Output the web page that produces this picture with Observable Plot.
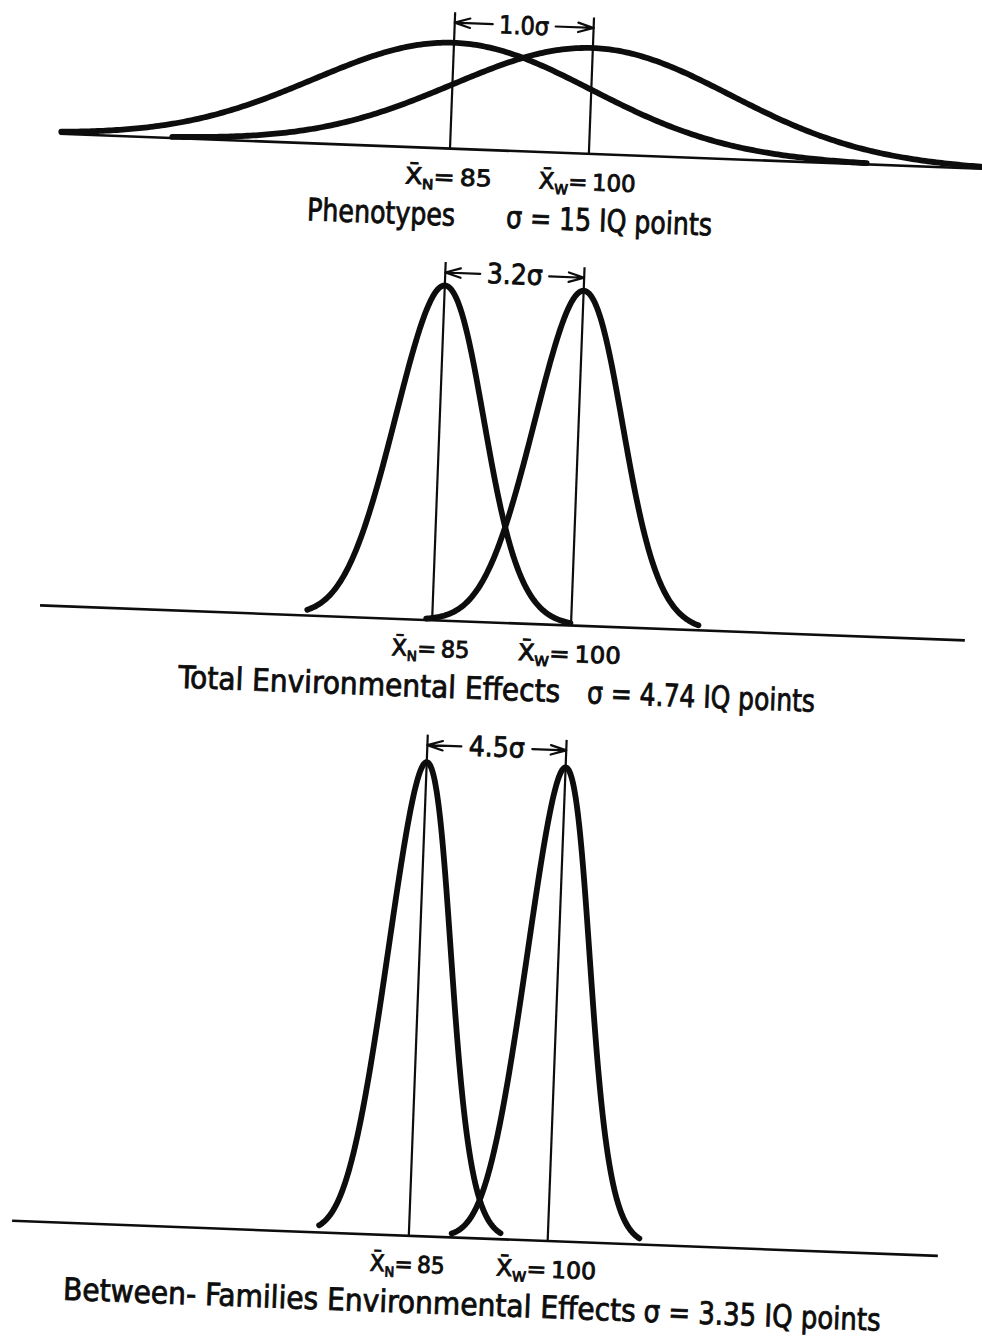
<!DOCTYPE html>
<html>
<head>
<meta charset="utf-8">
<script src="https://cdn.jsdelivr.net/npm/d3@7"></script>
<script src="https://cdn.jsdelivr.net/npm/@observablehq/plot@0.6"></script>
<style>
  html, body { margin: 0; padding: 0; background: #fff; overflow: hidden; }
  #page { position: relative; width: 982px; height: 1336px; transform: rotate(2.17deg); transform-origin: 491px 668px; }
  #page svg { position: absolute; left: 0; }
</style>
</head>
<body>
<div id="page"></div>
<script>
// ---- data ----
const panelNames = ["Phenotypes", "Total Environmental Effects", "Between- Families Environmental Effects"];
const sigmas = [15, 4.74, 3.35];             // IQ points
const groups = ["N", "W"];
const means = [85, 100];                     // IQ
const gapLabels = ["1.0σ", "3.2σ", "4.5σ"];
// extent of each drawn curve, in sigma units [left, right]
const tailsN = [[-2.8, 3.0], [-2.85, 3.15], [-2.9, 2.95]];
const tailsW = [[-3.0, 3.05], [-3.3, 2.9], [-3.1, 2.95]];
// extent of each baseline, in IQ units
const baselineSpans = [[42.9, 146], [42.7, 142.6], [42.2, 142.2]];
const xDomain = [38.6, 144.6];

// ---- layout ----
const INK = "#0d0d0d";
const FONT = "'DejaVu Sans Condensed','DejaVu Sans',sans-serif";
const k = 3980;          // px per density unit (same for every panel: equal areas)
const mTop = 14, mBot = 95;
const layout = [
  {top: 0,   plotH: 136, dimSize: 25, dimW: 57, labelW: [87, 97],  titleX: [[290, 438], [489, 695]]},
  {top: 250, plotH: 358, dimSize: 28, dimW: 63, labelW: [78, 103], titleX: [[179, 561], [588, 816]]},
  {top: 723, plotH: 501, dimSize: 28, dimW: 65, labelW: [75, 100], titleX: [[87, 660], [668, 905]]}
];

function density(z, s) { return Math.exp(-z * z / 2) / (s * Math.sqrt(2 * Math.PI)); }

const page = document.getElementById("page");

panelNames.forEach((name, i) => {
  const s = sigmas[i], L = layout[i];
  const ymax = L.plotH / k;
  const curve = [];
  groups.forEach((g, j) => {
    const [a, b] = (j ? tailsW : tailsN)[i];
    d3.range(a, b, 0.02).concat([b]).forEach(z =>
      curve.push({g, x: means[j] + z * s, y: density(z, s)}));
  });
  const mid = (means[0] + means[1]) / 2;
  const inset = L.dimW / 2 + 3;

  const chart = Plot.plot({
    width: 982,
    height: mTop + L.plotH + mBot,
    marginTop: mTop, marginBottom: mBot, marginLeft: 0, marginRight: 0,
    style: {fontFamily: FONT, background: "transparent", overflow: "visible"},
    x: {domain: xDomain, axis: null},
    y: {domain: [0, ymax], axis: null},
    marks: [
      Plot.ruleY([0], {x1: baselineSpans[i][0], x2: baselineSpans[i][1], stroke: INK, strokeWidth: 2.6}),
      Plot.ruleX(means, {y1: 0, y2: ymax, stroke: INK, strokeWidth: 2.2}),
      Plot.line(curve, {x: "x", y: "y", z: "g", stroke: INK, strokeWidth: 5.8,
                        strokeLinecap: "round", strokeLinejoin: "round"}),
      Plot.arrow(means, {x1: mid, x2: d => d, y1: ymax, y2: ymax, dy: 10,
                         insetStart: inset, stroke: INK, strokeWidth: 2.2,
                         headLength: 11, headAngle: 34}),
      Plot.text([gapLabels[i]], {x: mid, y: ymax, dy: 19, text: d => d,
                                 lineAnchor: "bottom", fontSize: L.dimSize, fill: INK,
                                 stroke: INK, strokeWidth: 0.8})
    ]
  });

  const sx = chart.scale("x"), sy = chart.scale("y");
  const base = sy.apply(0);
  const g = d3.select(chart).append("g")
    .attr("fill", INK).attr("stroke", INK).attr("stroke-width", 0.8)
    .attr("font-family", FONT);

  means.forEach((m, j) => {
    const t = g.append("text")
      .attr("x", sx.apply(m)).attr("y", base + 37)
      .attr("text-anchor", "middle").attr("font-size", 23)
      .attr("textLength", L.labelW[j]).attr("lengthAdjust", "spacingAndGlyphs");
    t.append("tspan").text("X\u0304");
    t.append("tspan").attr("dy", 5).attr("font-size", 14).text(groups[j]);
    t.append("tspan").attr("dy", -5).text("=\u2009" + m);
  });

  [name, `σ = ${s} IQ points`].forEach((txt, p) => {
    const [x0, x1] = L.titleX[p];
    g.append("text")
      .attr("x", x0).attr("y", base + 77.5)
      .attr("text-anchor", "start")
      .attr("font-size", 31)
      .attr("textLength", x1 - x0).attr("lengthAdjust", "spacingAndGlyphs")
      .text(txt);
  });

  chart.style.top = L.top + "px";
  page.appendChild(chart);
});
</script>
</body>
</html>
